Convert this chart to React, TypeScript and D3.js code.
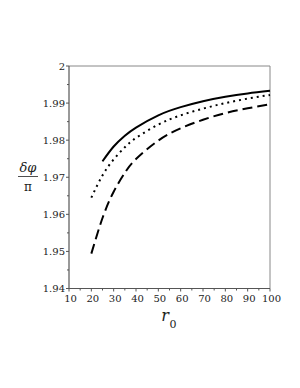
import React from "react";
import * as d3 from "d3";

const rSolid = [25, 30, 35, 40, 50, 60, 70, 80, 90, 100];
const vSolid = [1.9743, 1.9783, 1.9812, 1.9834, 1.9867, 1.9889, 1.9905, 1.9917, 1.9926, 1.9933];
const rDotted = [20, 25, 30, 35, 40, 50, 60, 70, 80, 90, 100];
const vDotted = [1.9645, 1.9705, 1.9748, 1.9781, 1.9806, 1.9842, 1.9867, 1.9885, 1.99, 1.9912, 1.9922];
const rDashed = [20, 25, 30, 35, 40, 50, 60, 70, 80, 90, 100];
const vDashed = [1.9494, 1.959, 1.9661, 1.9712, 1.9749, 1.9799, 1.9832, 1.9855, 1.9873, 1.9886, 1.9897];

const xTicks = [10, 20, 30, 40, 50, 60, 70, 80, 90, 100];
const yTicks = [1.94, 1.95, 1.96, 1.97, 1.98, 1.99, 2];
const yTickLabels = ["1.94", "1.95", "1.96", "1.97", "1.98", "1.99", "2"];

export default function App() {
  const W = 300, H = 388;
  const left = 69, right = 270, top = 66, bottom = 288.5;
  const x = d3.scaleLinear().domain([10, 100]).range([left, right]);
  const y = d3.scaleLinear().domain([1.94, 2]).range([bottom, top]);
  const line = d3.line<[number, number]>().x(d => x(d[0])).y(d => y(d[1])).curve(d3.curveNatural);
  const mk = (rs: number[], vs: number[]) => line(rs.map((r, i) => [r, vs[i]] as [number, number])) || "";
  const xMinor = d3.range(15, 100, 10);
  const yMinor = d3.range(0, 6).map(i => 1.945 + i * 0.01);
  const font = "DejaVu Serif";
  return (
    <svg width={W} height={H} style={{ position: "absolute", left: 0, top: 0 }}>
      <rect x={0} y={0} width={W} height={H} fill="#fff" />
      <line x1={left} y1={top} x2={right} y2={top} stroke="#888" strokeWidth={1} />
      <line x1={right} y1={top} x2={right} y2={bottom} stroke="#888" strokeWidth={1} />
      <line x1={left} y1={top} x2={left} y2={bottom} stroke="#555" strokeWidth={1.2} />
      <line x1={left} y1={bottom} x2={right} y2={bottom} stroke="#555" strokeWidth={1.2} />
      {yTicks.map((t, i) => (
        <g key={"yt" + i}>
          <line x1={left - 3} x2={left} y1={y(t)} y2={y(t)} stroke="#555" />
          <text x={left - 4} y={y(t)} dy="0.35em" textAnchor="end" fontFamily={font} fontSize={10} fill="#222">{yTickLabels[i]}</text>
        </g>
      ))}
      {yMinor.map((t, i) => (
        <line key={"ym" + i} x1={left - 2} x2={left} y1={y(t)} y2={y(t)} stroke="#555" />
      ))}
      {xTicks.map((t, i) => (
        <g key={"xt" + i}>
          <line x1={x(t)} x2={x(t)} y1={bottom} y2={bottom + 3} stroke="#555" />
          <text x={x(t) + 1.5} y={bottom + 13} textAnchor="middle" fontFamily={font} fontSize={10} fill="#222">{t}</text>
        </g>
      ))}
      {xMinor.map((t, i) => (
        <line key={"xm" + i} x1={x(t)} x2={x(t)} y1={bottom} y2={bottom + 2} stroke="#555" />
      ))}
      <path d={mk(rSolid, vSolid)} fill="none" stroke="#000" strokeWidth={2} />
      <path d={mk(rDotted, vDotted)} fill="none" stroke="#000" strokeWidth={2} strokeDasharray="2 4" />
      <path d={mk(rDashed, vDashed)} fill="none" stroke="#000" strokeWidth={2} strokeDasharray="10 5" />
      <text x={28} y={172} textAnchor="middle" fontFamily={font} fontStyle="italic" fontSize={13} fill="#222">δφ</text>
      <line x1={18} x2={38} y1={176.5} y2={176.5} stroke="#222" strokeWidth={0.8} />
      <text x={28} y={191} textAnchor="middle" fontFamily={font} fontSize={12} fill="#222">π</text>
      <text x={165} y={321} textAnchor="middle" fontFamily={font} fontStyle="italic" fontSize={16} fill="#222">r</text>
      <text x={173} y={328} textAnchor="middle" fontFamily={font} fontSize={11} fill="#222">0</text>
    </svg>
  );
}
